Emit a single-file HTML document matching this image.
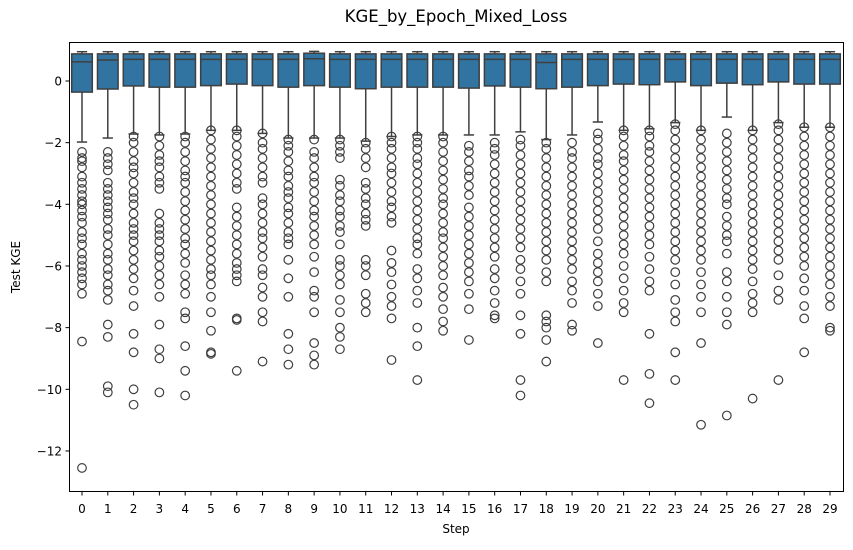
<!DOCTYPE html>
<html><head><meta charset="utf-8"><style>
body{margin:0;background:#fff}
svg text{font-family:"DejaVu Sans","Liberation Sans",sans-serif;fill:#000}
</style></head><body>
<svg id="chart" width="853" height="545" viewBox="0 0 853 545">
<rect width="853" height="545" fill="#fff"/>
<text x="456" y="22" font-size="16.5" text-anchor="middle">KGE_by_Epoch_Mixed_Loss</text>
<g id="plot"></g>
<rect x="69.5" y="42.5" width="774" height="449" fill="none" stroke="#000" stroke-width="1"/>
<text x="456" y="533" font-size="12" text-anchor="middle">Step</text>
<text x="20" y="267" font-size="12" text-anchor="middle" transform="rotate(-90 20 267)">Test KGE</text>
</svg>
<script>
const categories=[0,1,2,3,4,5,6,7,8,9,10,11,12,13,14,15,16,17,18,19,20,21,22,23,24,25,26,27,28,29];
const medians=[0.62,0.68,0.7,0.7,0.7,0.7,0.7,0.7,0.7,0.72,0.7,0.7,0.7,0.7,0.7,0.7,0.7,0.7,0.6,0.7,0.7,0.7,0.7,0.7,0.7,0.7,0.7,0.7,0.7,0.7];
const q1s=[-0.36,-0.26,-0.16,-0.2,-0.2,-0.15,-0.1,-0.15,-0.2,-0.15,-0.2,-0.25,-0.2,-0.2,-0.2,-0.23,-0.16,-0.2,-0.25,-0.2,-0.15,-0.1,-0.12,-0.03,-0.15,-0.07,-0.12,-0.03,-0.1,-0.1];
const q3s=[0.88,0.88,0.88,0.88,0.88,0.88,0.88,0.88,0.88,0.9,0.88,0.88,0.88,0.88,0.88,0.88,0.88,0.88,0.88,0.88,0.88,0.88,0.88,0.88,0.88,0.88,0.88,0.88,0.88,0.88];
const whiskHi=[0.95,0.95,0.95,0.95,0.95,0.95,0.95,0.95,0.95,0.96,0.95,0.95,0.95,0.95,0.95,0.95,0.95,0.95,0.95,0.95,0.95,0.95,0.95,0.95,0.95,0.95,0.95,0.95,0.95,0.95];
const whiskLo=[-1.98,-1.85,-1.72,-1.75,-1.72,-1.6,-1.6,-1.7,-1.85,-1.85,-1.85,-1.95,-1.8,-1.75,-1.75,-1.75,-1.75,-1.65,-1.9,-1.75,-1.33,-1.6,-1.55,-1.35,-1.6,-1.17,-1.6,-1.35,-1.5,-1.5];
const outliers=[
[-2.3,-2.5,-2.6,-2.8,-3.1,-3.3,-3.5,-3.7,-3.9,-4.0,-4.2,-4.4,-4.6,-4.9,-5.1,-5.3,-5.6,-5.8,-6.0,-6.2,-6.4,-6.6,-6.9,-8.45,-12.55],
[-2.3,-2.5,-2.7,-2.9,-3.3,-3.5,-3.7,-3.9,-4.1,-4.3,-4.5,-4.8,-5.0,-5.3,-5.6,-5.8,-6.1,-6.3,-6.6,-6.8,-7.1,-7.9,-8.3,-9.9,-10.1],
[-1.8,-2.0,-2.3,-2.6,-2.8,-3.0,-3.3,-3.6,-3.8,-4.0,-4.3,-4.6,-4.8,-5.0,-5.2,-5.5,-5.8,-6.1,-6.4,-6.8,-7.3,-8.2,-8.8,-10.0,-10.5],
[-1.8,-2.1,-2.4,-2.6,-2.8,-3.1,-3.3,-3.5,-4.3,-4.6,-4.8,-5.0,-5.2,-5.5,-5.7,-6.0,-6.3,-6.6,-7.0,-7.9,-8.7,-9.0,-10.1],
[-1.8,-2.0,-2.3,-2.6,-2.9,-3.1,-3.3,-3.6,-3.9,-4.2,-4.5,-4.8,-5.1,-5.3,-5.6,-5.9,-6.3,-6.6,-6.9,-7.5,-7.7,-8.6,-9.4,-10.2],
[-1.6,-1.9,-2.2,-2.5,-2.8,-3.1,-3.4,-3.7,-4.0,-4.3,-4.6,-4.9,-5.2,-5.5,-5.8,-6.1,-6.3,-6.6,-7.0,-7.5,-8.1,-8.8,-8.85],
[-1.6,-1.8,-2.1,-2.4,-2.7,-3.0,-3.3,-3.5,-4.1,-4.4,-4.7,-5.0,-5.3,-5.6,-5.9,-6.1,-6.3,-6.5,-7.7,-7.75,-9.4],
[-1.7,-2.0,-2.2,-2.5,-2.8,-3.1,-3.3,-3.8,-4.0,-4.3,-4.6,-4.9,-5.1,-5.4,-5.7,-6.1,-6.3,-6.7,-7.0,-7.5,-7.8,-9.1],
[-1.9,-2.1,-2.3,-2.6,-2.9,-3.1,-3.4,-3.6,-3.8,-4.1,-4.3,-4.6,-4.9,-5.1,-5.3,-5.8,-6.4,-7.0,-8.2,-8.7,-9.2],
[-1.9,-2.3,-2.5,-2.8,-3.1,-3.3,-3.6,-3.9,-4.2,-4.4,-4.7,-5.0,-5.3,-5.7,-6.2,-6.8,-7.0,-7.5,-8.5,-8.9,-9.2],
[-1.9,-2.1,-2.3,-2.5,-3.2,-3.4,-3.7,-3.9,-4.2,-4.4,-4.7,-4.9,-5.3,-5.8,-6.0,-6.3,-6.6,-7.1,-7.5,-8.0,-8.3,-8.7],
[-2.0,-2.2,-2.5,-2.8,-3.3,-3.5,-3.8,-4.0,-4.3,-4.5,-4.7,-5.8,-6.0,-6.3,-6.9,-7.2,-7.5],
[-1.8,-2.0,-2.2,-2.5,-2.8,-3.0,-3.3,-3.6,-3.9,-4.1,-4.4,-4.6,-5.5,-5.9,-6.2,-6.6,-7.0,-7.3,-7.7,-9.05],
[-1.8,-2.0,-2.2,-2.5,-2.7,-3.0,-3.3,-3.6,-3.9,-4.2,-4.5,-4.8,-5.1,-5.3,-5.6,-6.1,-6.4,-6.8,-7.2,-8.0,-8.6,-9.7],
[-1.8,-2.0,-2.3,-2.6,-2.9,-3.2,-3.5,-3.8,-4.0,-4.3,-4.6,-4.9,-5.1,-5.4,-5.7,-6.0,-6.3,-6.7,-7.0,-7.4,-7.8,-8.1],
[-2.1,-2.3,-2.6,-2.9,-3.1,-3.4,-3.7,-4.1,-4.4,-4.7,-5.0,-5.3,-5.6,-5.9,-6.2,-6.5,-6.9,-7.4,-8.4],
[-2.0,-2.2,-2.4,-2.7,-3.0,-3.3,-3.6,-3.9,-4.2,-4.5,-4.8,-5.1,-5.4,-5.7,-6.1,-6.4,-6.8,-7.2,-7.6,-7.7],
[-1.9,-2.1,-2.4,-2.7,-3.0,-3.3,-3.6,-3.9,-4.2,-4.5,-4.8,-5.1,-5.4,-5.8,-6.1,-6.5,-6.9,-7.6,-8.2,-9.7,-10.2],
[-2.0,-2.2,-2.5,-2.8,-3.1,-3.4,-3.7,-4.0,-4.3,-4.6,-4.9,-5.2,-5.5,-5.8,-6.2,-6.5,-7.6,-7.8,-8.0,-8.4,-9.1],
[-2.0,-2.3,-2.5,-2.8,-3.1,-3.4,-3.7,-4.0,-4.3,-4.6,-4.9,-5.2,-5.5,-5.8,-6.1,-6.5,-6.8,-7.2,-7.9,-8.1],
[-1.7,-1.9,-2.2,-2.5,-2.7,-3.0,-3.3,-3.6,-3.9,-4.2,-4.5,-4.8,-5.2,-5.6,-5.9,-6.2,-6.5,-6.9,-7.3,-8.5],
[-1.6,-1.8,-2.1,-2.4,-2.6,-2.9,-3.2,-3.5,-3.8,-4.1,-4.4,-4.7,-5.0,-5.3,-5.6,-6.0,-6.4,-6.8,-7.2,-7.5,-9.7],
[-1.6,-1.8,-2.1,-2.3,-2.6,-2.9,-3.2,-3.5,-3.8,-4.1,-4.4,-4.7,-5.0,-5.3,-5.7,-6.1,-6.5,-6.8,-8.2,-9.5,-10.45],
[-1.4,-1.6,-1.9,-2.2,-2.5,-2.8,-3.1,-3.4,-3.7,-4.0,-4.3,-4.6,-4.9,-5.2,-5.5,-5.8,-6.2,-6.6,-7.1,-7.5,-7.8,-8.8,-9.7],
[-1.6,-1.9,-2.2,-2.5,-2.8,-3.1,-3.4,-3.7,-4.0,-4.3,-4.6,-4.9,-5.2,-5.5,-5.8,-6.2,-6.6,-7.0,-7.5,-8.5,-11.15],
[-1.7,-2.0,-2.3,-2.6,-2.9,-3.2,-3.5,-3.8,-4.0,-4.4,-4.7,-5.0,-5.2,-5.6,-6.2,-6.5,-7.0,-7.5,-7.9,-10.85],
[-1.6,-1.9,-2.2,-2.5,-2.8,-3.1,-3.4,-3.7,-4.0,-4.3,-4.6,-4.9,-5.2,-5.5,-5.8,-6.1,-6.5,-6.9,-7.2,-7.5,-10.3],
[-1.4,-1.6,-1.9,-2.2,-2.5,-2.8,-3.1,-3.4,-3.7,-4.0,-4.3,-4.6,-4.9,-5.2,-5.5,-5.8,-6.3,-6.8,-7.1,-9.7],
[-1.5,-1.8,-2.1,-2.4,-2.7,-3.0,-3.3,-3.6,-3.9,-4.2,-4.5,-4.8,-5.1,-5.4,-5.7,-6.0,-6.4,-6.8,-7.3,-7.7,-8.8],
[-1.5,-1.8,-2.1,-2.4,-2.7,-3.0,-3.3,-3.6,-3.9,-4.2,-4.5,-4.8,-5.1,-5.4,-5.7,-6.0,-6.3,-6.6,-7.0,-7.3,-8.0,-8.1]
];
const yTicks=[0,-2,-4,-6,-8,-10,-12];

const NS='http://www.w3.org/2000/svg';
const plot=document.getElementById('plot');
function xS(i){return 82+25.793*i;}
function yS(v){return 81-30.83*v;}
function mk(tag,attrs,parent){const e=document.createElementNS(NS,tag);for(const k in attrs)e.setAttribute(k,attrs[k]);(parent||plot).appendChild(e);return e;}
const C='#3f3f3f';
const hw=10.3;
categories.forEach((c,i)=>{
  const g=mk('g',{});
  
  
  const x=xS(i);
  mk('line',{x1:x,x2:x,y1:yS(q3s[i]),y2:yS(whiskHi[i]),stroke:C,'stroke-width':1.5},g);
  mk('line',{x1:x,x2:x,y1:yS(q1s[i]),y2:yS(whiskLo[i]),stroke:C,'stroke-width':1.5},g);
  mk('line',{x1:x-hw/2,x2:x+hw/2,y1:yS(whiskHi[i]),y2:yS(whiskHi[i]),stroke:C,'stroke-width':1.5},g);
  mk('line',{x1:x-hw/2,x2:x+hw/2,y1:yS(whiskLo[i]),y2:yS(whiskLo[i]),stroke:C,'stroke-width':1.5},g);
  mk('rect',{x:x-hw,y:yS(q3s[i]),width:hw*2,height:yS(q1s[i])-yS(q3s[i]),fill:'#3274a1',stroke:C,'stroke-width':1.5},g);
  mk('line',{x1:x-hw,x2:x+hw,y1:yS(medians[i]),y2:yS(medians[i]),stroke:C,'stroke-width':1.5},g);
  outliers[i].forEach(v=>{
    const o=mk('circle',{cx:x,cy:yS(v),r:4.3,fill:'none',stroke:C,'stroke-width':1.2},g);
    
    
  });
  const t=mk('line',{x1:x,x2:x,y1:491.5,y2:495.5,stroke:'#000','stroke-width':1});
  
  
  const l=mk('text',{x:x,y:513,'font-size':12,'text-anchor':'middle'});
  l.textContent=c;
  
  
});
yTicks.forEach(v=>{
  const y=yS(v);
  const t=mk('line',{x1:65.5,x2:69.5,y1:y,y2:y,stroke:'#000','stroke-width':1});
  
  
  const l=mk('text',{x:62,y:y+4.5,'font-size':12,'text-anchor':'end'});
  l.textContent=v<0?'\u2212'+Math.abs(v):String(v);
  
  
});
</script>
</body></html>
